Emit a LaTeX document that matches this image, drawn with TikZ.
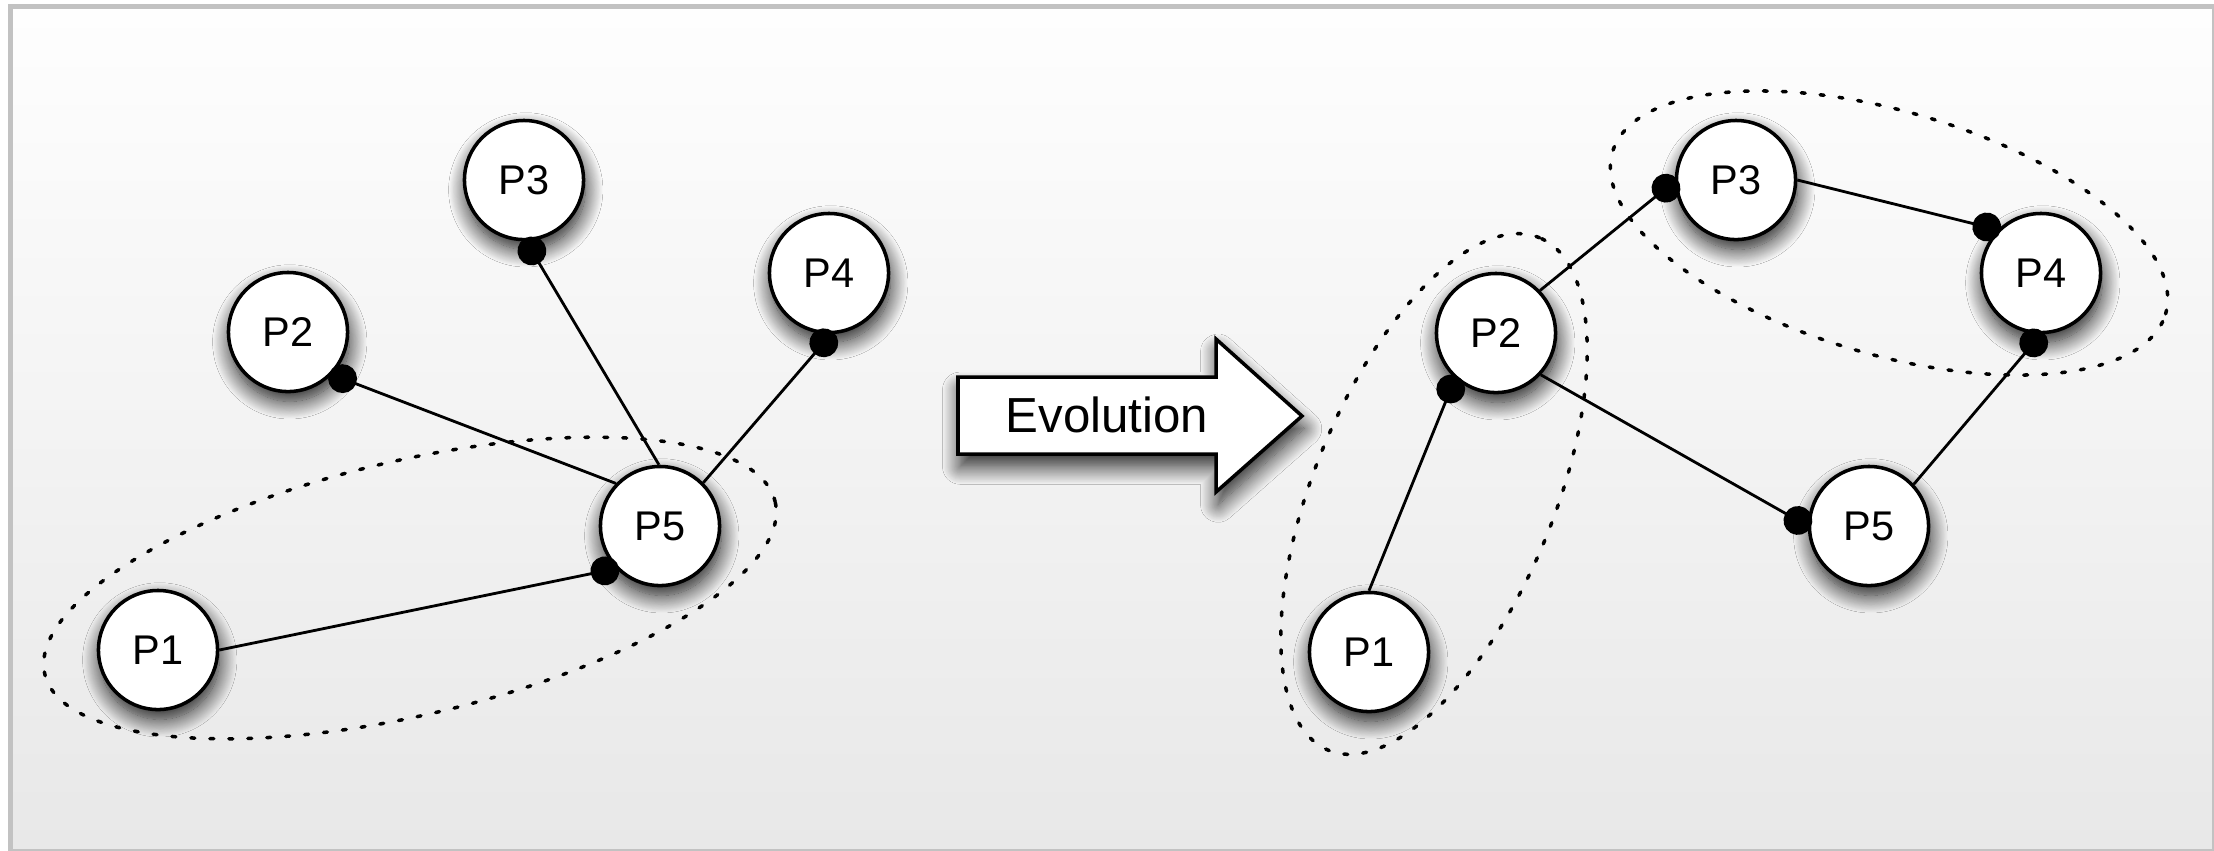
\documentclass[tikz,border=0pt]{standalone}
\usepackage{fontspec}
\setmainfont{Liberation Sans}
\usetikzlibrary{arrows.meta,calc,shadows.blur}
\definecolor{framegray}{RGB}{194,194,194}
\definecolor{bgtop}{RGB}{254,254,254}
\definecolor{bgbottom}{RGB}{232,232,232}
\tikzset{
  pnode/.style={circle, draw=black, line width=1pt, fill=white,
    minimum size=1.19cm, inner sep=0pt, font=\fontsize{11.8}{14}\selectfont,
    blur shadow={shadow xshift=0.5pt, shadow yshift=-2.8pt,
      shadow blur radius=5pt, shadow blur steps=20, shadow opacity=90}},
  link/.style={line width=0.8pt, shorten >=-0.9pt,
    -{Circle[length=8.2pt,width=8.2pt]}},
  groupring/.style={line width=1pt, dash pattern=on 1.1pt off 4.3pt, line cap=round},
  evoshape/.style={draw=black, line width=1pt, fill=white, line join=miter,
    blur shadow={shadow xshift=0.6pt, shadow yshift=-3.6pt,
      shadow blur radius=5pt, shadow blur steps=20, shadow opacity=85}},
  evotext/.style={font=\fontsize{14}{16}\selectfont, inner sep=0pt}
}
\begin{document}
\begin{tikzpicture}[x=0.01cm, y=-0.01cm]
  \useasboundingbox (0,0) rectangle (2214,850);
  \fill[white] (0,0) rectangle (2214,850);
  \shade[top color=bgtop, bottom color=bgbottom] (13,9) rectangle (2212,849);
  \draw[framegray, line width=0.05cm] (10.5,6.5) rectangle (2214.5,851);

  % evolution arrow
  \begin{scope}
    \draw[evoshape] (958,377) -- (1216,377) -- (1216,339) -- (1302,416)
      -- (1216,492) -- (1216,454) -- (958,454) -- cycle;
  \end{scope}
  \node[evotext] (evo) at (1107,415) {Evolution};

  % left graph
  \node[pnode] (L1) at (158,650) {P1};
  \node[pnode] (L2) at (288,332) {P2};
  \node[pnode] (L3) at (524,180) {P3};
  \node[pnode] (L4) at (829,273) {P4};
  \node[pnode] (L5) at (660,526) {P5};

  % right graph
  \node[pnode] (R1) at (1369,652) {P1};
  \node[pnode] (R2) at (1496,333) {P2};
  \node[pnode] (R3) at (1736,180) {P3};
  \node[pnode] (R4) at (2041,273) {P4};
  \node[pnode] (R5) at (1869,526) {P5};

  \begin{scope}
    \draw[link] (L1.0) -- (L5.-136);
    \draw[link] (L5.136) -- (L2.-44);
    \draw[link] (L5.91) -- (L3.-88);
    \draw[link] (L5.45) -- (L4.-88);

    \draw[link] (R1.90) -- (R2.-132);
    \draw[link] (R2.44) -- (R3.181);
    \draw[link] (R3.0) -- (R4.135);
    \draw[link] (R2.-43) -- (R5.180);
    \draw[link] (R5.43) -- (R4.-90);
  \end{scope}

  \draw[groupring, rotate around={13.3:(410,588)}] (410,588) ellipse (3.75cm and 1.27cm);
  \draw[groupring, rotate around={67.6:(1434,494)}] (1434,494) ellipse (2.77cm and 1.20cm);
  \draw[groupring, rotate around={-16.3:(1889,233)}] (1889,233) ellipse (2.88cm and 1.216cm);
\end{tikzpicture}
\end{document}
